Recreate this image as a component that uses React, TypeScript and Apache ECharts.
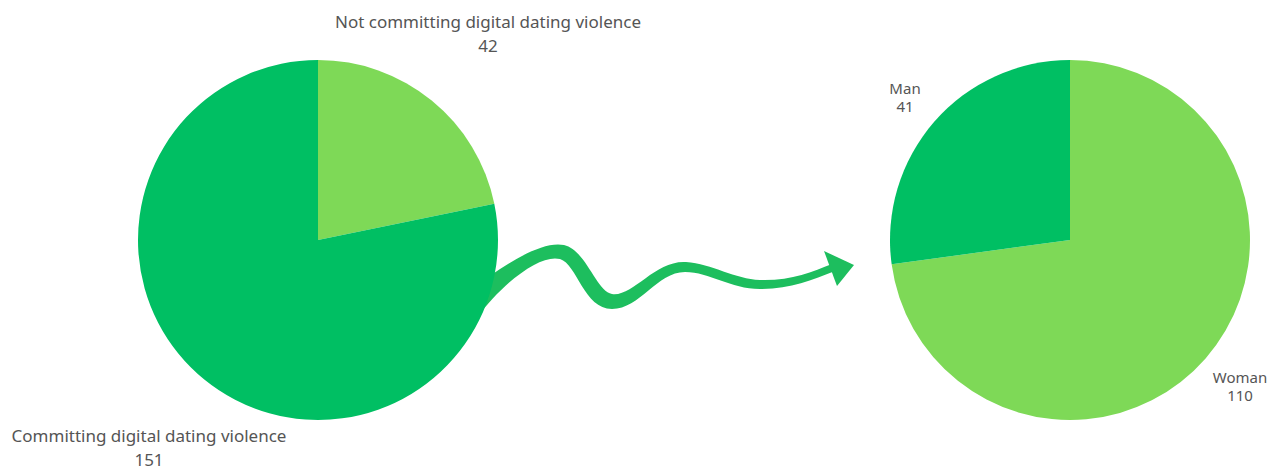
import React, { useEffect, useRef } from "react";
import * as echarts from "echarts";

const leftCategories = ["Not committing digital dating violence", "Committing digital dating violence"];
const leftValues = [42, 151];
const rightCategories = ["Woman", "Man"];
const rightValues = [110, 41];

const DARK = "#00BF63";
const LIGHT = "#7ED957";

const ARROW_BODY =
  "M 470 290 C 500 268 540 240 564 245 C 586 250 596 291 612 294 C 633 297 655 260 686 262 C 712 264 735 279 760 280 C 790 281 812 272 832 264 " +
  "L 835 271 C 812 280 790 289 760 289 C 730 289 710 272 685 272 C 657 272 640 309 612 309 C 584 309 577 264 560 259 C 541 254 505 280 475 320 Z";

let registered = false;

export default function App() {
  const ref = useRef<HTMLDivElement>(null);
  useEffect(() => {
    document.body.style.margin = "0";
    if (!registered) {
      echarts.graphic.registerShape("arrowBody", echarts.graphic.extendPath(ARROW_BODY, {}));
      registered = true;
    }
    const chart = echarts.init(ref.current!, null, { renderer: "svg" });
    const labelPos: Record<string, [number, number]> = {
      "0-0": [488, 33],
      "0-1": [149, 447],
      "1-0": [1240, 386],
      "1-1": [905, 97],
    };
    const baseLabel = {
      show: true,
      position: "outside",
      color: "#555555",
      fontFamily: "Noto Sans",
      formatter: "{b}\n{c}",
      align: "center",
      overflow: "none",
      alignTo: "none",
    };
    chart.setOption({
      animation: false,
      backgroundColor: "#ffffff",
      series: [
        {
          type: "pie",
          z: 5,
          center: [318, 240],
          radius: [0, 180],
          startAngle: 90,
          clockwise: true,
          silent: true,
          label: { ...baseLabel, fontSize: 17, lineHeight: 24 },
          labelLine: { show: false },
          labelLayout: (p: any) => {
            const pos = labelPos[`0-${p.dataIndex}`];
            return { x: pos[0], y: pos[1], align: "center", verticalAlign: "middle" };
          },
          data: leftCategories.map((n, i) => ({
            name: n,
            value: leftValues[i],
            itemStyle: { color: i === 0 ? LIGHT : DARK },
          })),
        },
        {
          type: "pie",
          z: 5,
          center: [1070, 240],
          radius: [0, 180],
          startAngle: 90,
          clockwise: true,
          silent: true,
          label: { ...baseLabel, fontSize: 15, lineHeight: 18 },
          labelLine: { show: false },
          labelLayout: (p: any) => {
            const pos = labelPos[`1-${p.dataIndex}`];
            return { x: pos[0], y: pos[1], align: "center", verticalAlign: "middle" };
          },
          data: rightCategories.map((n, i) => ({
            name: n,
            value: rightValues[i],
            itemStyle: { color: i === 0 ? LIGHT : DARK },
          })),
        },
      ],
      graphic: [
        { type: "arrowBody", x: 0, y: 0, style: { fill: "#1DBE5E" }, z: 1 },
        {
          type: "polygon",
          shape: { points: [[824, 251], [854, 265], [837, 286]] },
          style: { fill: "#1DBE5E" },
          z: 1,
        },
      ],
    });
    return () => chart.dispose();
  }, []);
  return <div ref={ref} style={{ position: "absolute", left: 0, top: 0, width: 1282, height: 470 }} />;
}
